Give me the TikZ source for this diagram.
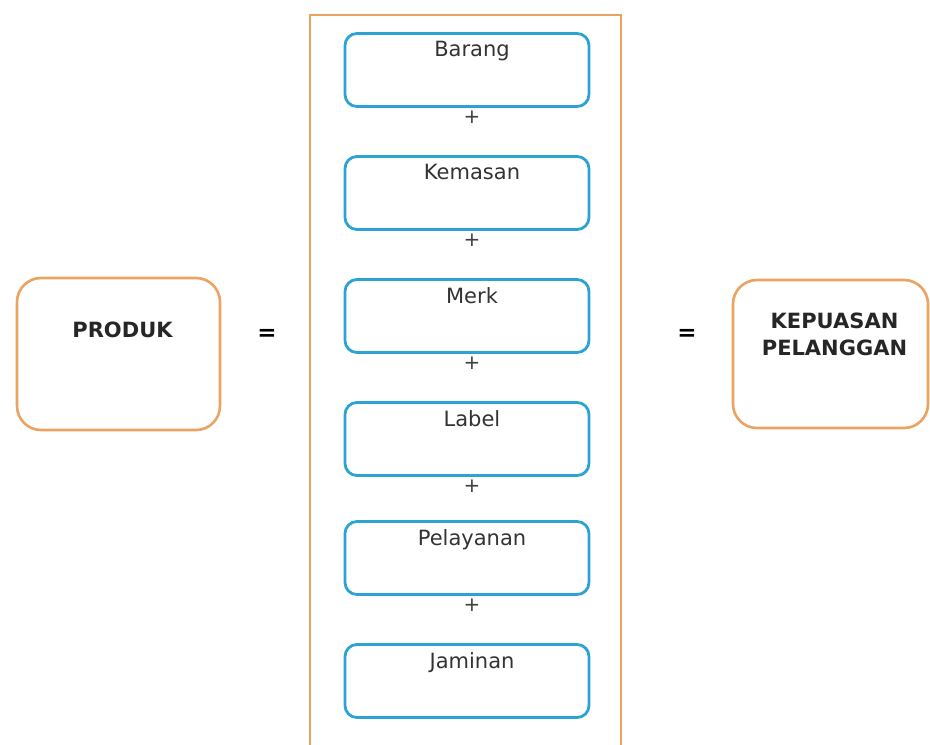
\documentclass[tikz,border=0pt]{standalone}
\usepackage{fontspec}
\setmainfont{DejaVu Sans}
\usetikzlibrary{positioning}
\definecolor{frameorange}{RGB}{236,162,96}
\definecolor{itemblue}{RGB}{44,163,212}

\begin{document}
\begin{tikzpicture}[x=1pt,y=-1pt,
  itembox/.style={draw=itemblue,line width=2.8pt,rounded corners=12pt,minimum width=244pt,minimum height=73pt,inner sep=0pt},
  sidebox/.style={draw=frameorange,line width=2.6pt,rounded corners=24pt,inner sep=0pt},
  itemtext/.style={anchor=north,inner sep=0pt,xshift=5pt,text=black!80,font=\fontsize{21pt}{24pt}\selectfont},
  sidetext/.style={anchor=north,inner sep=0pt,xshift=4pt,text=black!85,font=\fontsize{21pt}{27pt}\selectfont\bfseries},
  plussign/.style={inner sep=0pt,xshift=5pt,text=black!75,font=\fontsize{20pt}{22pt}\selectfont},
  eqsign/.style={inner sep=0pt,font=\fontsize{23pt}{25pt}\selectfont\bfseries}]
\useasboundingbox (0,0) rectangle (930,745);
% frame round the six parts, open at the bottom
\draw[frameorange,line width=2.8pt] (310,760) |- (621,15) -- (621,760);
\node[itembox,label={[itemtext,yshift=-9pt]north:Barang}] (barang) at (467,70) {};
\node[itembox,label={[itemtext,yshift=-9pt]north:Kemasan}] (kemasan) at (467,193) {};
\node[itembox,label={[itemtext,yshift=-9pt]north:Merk}] (merk) at (467,316) {};
\node[itembox,label={[itemtext,yshift=-9pt]north:Label}] (labelbox) at (467,439) {};
\node[itembox,label={[itemtext,yshift=-9pt]north:Pelayanan}] (pelayanan) at (467,558) {};
\node[itembox,label={[itemtext,yshift=-9pt]north:Jaminan}] (jaminan) at (467,681) {};
\node[plussign,below=3pt of barang] (plus1) {+};
\node[plussign,below=3pt of kemasan] (plus2) {+};
\node[plussign,below=3pt of merk] (plus3) {+};
\node[plussign,below=3pt of labelbox] (plus4) {+};
\node[plussign,below=3pt of pelayanan] (plus5) {+};
% left and right side
\node[sidebox,minimum width=203pt,minimum height=152pt,label={[sidetext,yshift=-45pt]north:PRODUK}] (produk) at (118.5,354) {};
\node[sidebox,minimum width=195pt,minimum height=148pt,label={[sidetext,align=center,yshift=-34pt]north:KEPUASAN\\PELANGGAN}] (kepuasan) at (830.5,354) {};
\node[eqsign] (eqleft) at (267,335) {=};
\node[eqsign] (eqright) at (687,335) {=};
\end{tikzpicture}
\end{document}
